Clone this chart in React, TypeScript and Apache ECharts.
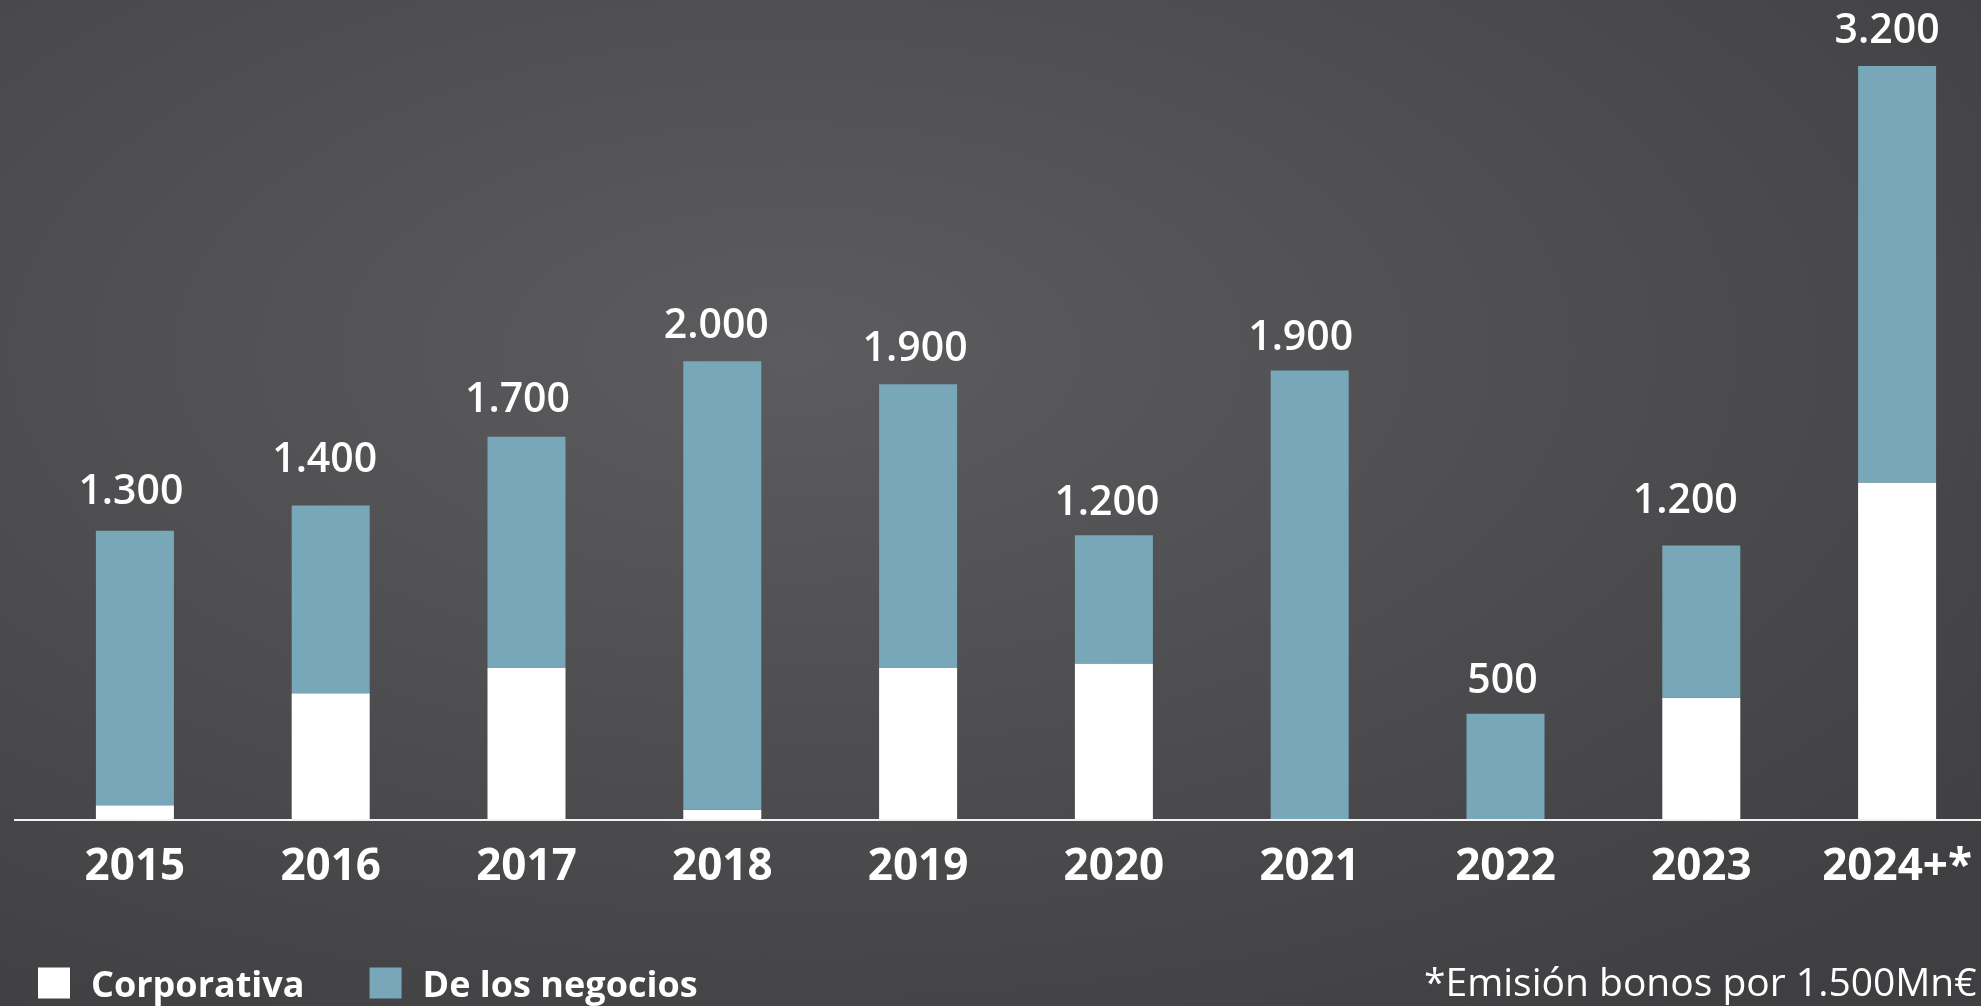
import React, { useEffect, useRef } from "react";
import * as echarts from "echarts";

const categories = ["2015", "2016", "2017", "2018", "2019", "2020", "2021", "2022", "2023", "2024+*"];
const corporativa = [60, 550, 660, 40, 660, 680, 0, 0, 530, 1470];
const negocios = [1200, 820, 1010, 1960, 1240, 560, 1960, 460, 665, 1820];
const totalLabels = ["1.300", "1.400", "1.700", "2.000", "1.900", "1.200", "1.900", "500", "1.200", "3.200"];
const legendNames = ["Corporativa", "De los negocios"];
const footnote = "*Emisión bonos por 1.500Mn€";

// per-bar placement of the total label relative to the bar top, as drawn in the reference
const labelGap = [22, 29, 20, 19, 19, 16, 16, 16, 28, 19];
const labelShift = [-4, -6, -9, -6, -3, -7, -9, -3, -16, -10];

const FONT = "'Open Sans', 'Noto Sans', sans-serif";
const BLUE = "#79a7ba";
const WHITE = "#ffffff";

export default function App() {
  const ref = useRef<HTMLDivElement>(null);

  useEffect(() => {
    if (!ref.current) return;
    const chart = echarts.init(ref.current, null, { renderer: "svg" });
    const option: any = {
      animation: false,
      backgroundColor: {
        type: "radial",
        x: 0.4,
        y: 0.35,
        r: 0.8,
        colorStops: [
          { offset: 0, color: "#5c5c5e" },
          { offset: 1, color: "#3f3f42" },
        ],
      },
      grid: {
        left: 37,
        top: 18,
        width: 1958,
        bottom: 187,
        containLabel: false,
        outerBoundsMode: "none",
      },
      legend: {
        data: legendNames,
        left: 33,
        top: 960,
        itemWidth: 32,
        itemHeight: 31,
        itemGap: 65,
        icon: "rect",
        textStyle: {
          color: "#ffffff",
          fontFamily: FONT,
          fontWeight: "bold",
          fontSize: 36,
          lineHeight: 36,
          padding: [0, 0, 0, 16],
        },
      },
      xAxis: {
        type: "category",
        data: categories,
        axisLine: { show: false },
        axisTick: { show: false },
        axisLabel: {
          interval: 0,
          color: "#ffffff",
          fontFamily: FONT,
          fontWeight: "bold",
          fontSize: 44,
          lineHeight: 44,
          margin: 22,
        },
      },
      yAxis: {
        type: "value",
        min: 0,
        max: 3500,
        show: false,
        splitLine: { show: false },
      },
      series: [
        {
          name: legendNames[0],
          type: "bar",
          stack: "total",
          data: corporativa,
          barWidth: 78,
          itemStyle: { color: WHITE },
        },
        {
          name: legendNames[1],
          type: "bar",
          stack: "total",
          data: negocios.map((v, i) => ({
            value: v,
            label: { distance: labelGap[i], offset: [labelShift[i], 0] },
          })),
          barWidth: 78,
          itemStyle: { color: BLUE },
          label: {
            show: true,
            position: "top",
            color: "#ffffff",
            fontFamily: FONT,
            fontWeight: 600,
            fontSize: 41,
            lineHeight: 41,
            formatter: (p: any) => totalLabels[p.dataIndex],
          },
        },
      ],
    };
    chart.setOption(option);
    const y0 = chart.convertToPixel({ yAxisIndex: 0 }, 0) as number;
    chart.setOption({
      graphic: [
        {
          type: "line",
          shape: { x1: 14, y1: y0 + 1, x2: 1981, y2: y0 + 1 },
          style: { stroke: "#f2f2f2", lineWidth: 2 },
          z: 10,
        },
        {
          type: "text",
          x: 1424,
          y: 980,
          style: {
            text: footnote,
            fill: "#ffffff",
            font: `400 39px ${FONT}`,
            verticalAlign: "middle",
            align: "left",
          },
        },
      ],
    });
    return () => chart.dispose();
  }, []);

  return (
    <div
      ref={ref}
      style={{ position: "fixed", left: 0, top: 0, width: 1981, height: 1006 }}
    />
  );
}
